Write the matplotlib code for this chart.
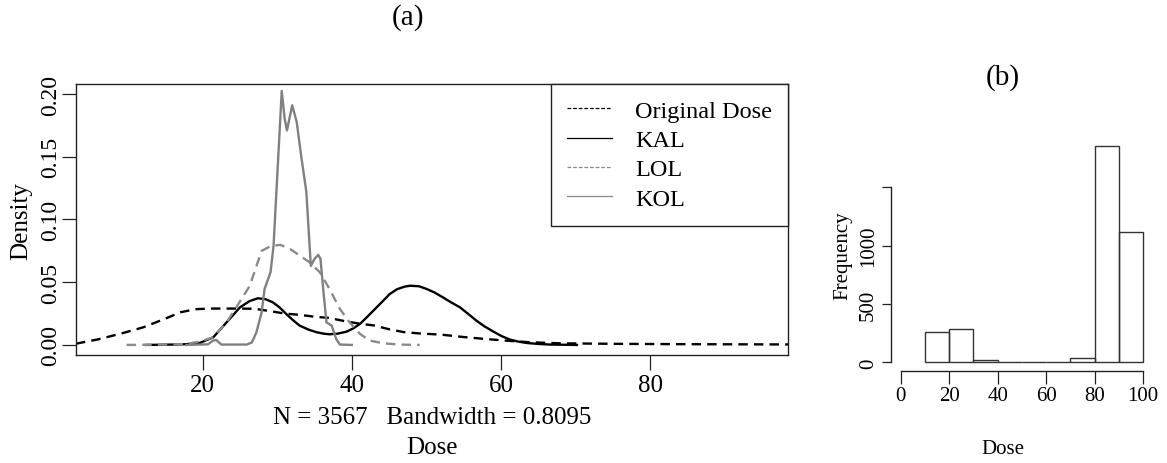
import matplotlib
matplotlib.use('Agg')
import matplotlib.pyplot as plt
from matplotlib.lines import Line2D
import numpy as np

plt.rcParams['font.family'] = ['Liberation Serif', 'DejaVu Serif']

# ---- panel (a): density curves ----
orig_x = [3, 6, 9, 12, 15, 17, 19, 21, 23, 25, 27, 29, 31, 33, 35, 37, 39, 41, 43, 45,
          47, 49, 52, 55, 58, 61, 64, 68, 75, 85, 98.5]
orig_y = [0.001, 0.0045, 0.009, 0.014, 0.021, 0.026, 0.0285, 0.029, 0.029, 0.029, 0.0288,
          0.027, 0.025, 0.024, 0.0225, 0.0215, 0.019, 0.017, 0.0155, 0.0125, 0.0102,
          0.0092, 0.0082, 0.0063, 0.0047, 0.0033, 0.0021, 0.0013, 0.0009, 0.0006, 0.0004]

kal_x = [12.4, 16, 17.8, 19.6, 21.4, 23.2, 25, 26.3, 27.4, 28.4, 29.4, 30.3, 31.2, 32.1, 33,
         34.2, 35.3, 36.2, 37, 38.1, 39.3, 40.2, 41.1, 42, 42.9, 44, 45.1, 46.1, 47.1, 47.8,
         49, 50, 51.1, 52.2, 53.3, 54.5, 55.6, 56.7, 57.8, 59, 60.1, 61.2, 62.3, 63.4, 65,
         66.6, 70.2]
kal_y = [0.0, 0.0003, 0.0006, 0.0016, 0.006, 0.018, 0.030, 0.035, 0.0372, 0.0365, 0.034,
         0.030, 0.0247, 0.0198, 0.0154, 0.0122, 0.0101, 0.009, 0.0085, 0.009, 0.0106,
         0.0132, 0.0168, 0.022, 0.0274, 0.034, 0.0407, 0.0445, 0.0465, 0.0472, 0.0468,
         0.0447, 0.0418, 0.038, 0.034, 0.030, 0.0248, 0.0194, 0.0148, 0.0106, 0.007,
         0.0043, 0.0027, 0.0016, 0.0008, 0.0003, 0.0]

lol_x = [9.8, 15.1, 17.8, 19.6, 21.4, 23.2, 24.5, 26.3, 27.9, 29.1, 30.4, 31.7, 33, 34.3,
         35.7, 37, 38.4, 39.7, 41.1, 42.4, 44.2, 46.4, 49.1]
lol_y = [0.0, 0.0003, 0.0008, 0.0027, 0.006, 0.018, 0.030, 0.047, 0.075, 0.0787, 0.0798,
         0.0766, 0.0713, 0.066, 0.058, 0.0447, 0.0287, 0.018, 0.0088, 0.0035, 0.0013,
         0.0003, 0.0]

kol_x = [17.8, 20.7, 21.4, 21.8, 22.5, 25.9, 26.6, 27.2, 27.9, 28.3, 29.1, 29.5, 30.0,
         30.6, 31.0, 31.3, 32.0, 32.6, 33.2, 33.9, 34.5, 35.0, 35.5, 35.8, 36.2, 36.6,
         37.3, 37.9, 38.4, 40.0]
kol_y = [0.0, 0.0005, 0.0035, 0.004, 0.0003, 0.0003, 0.002, 0.010, 0.026, 0.0447, 0.058,
         0.079, 0.135, 0.2024, 0.180, 0.171, 0.191, 0.178, 0.151, 0.122, 0.063, 0.0686,
         0.0718, 0.0686, 0.042, 0.018, 0.0154, 0.0048, 0.0003, 0.0]

series_names = ['Original Dose', 'KAL', 'LOL', 'KOL']

# ---- panel (b): histogram of dose ----
bin_edges = [10, 20, 30, 40, 50, 60, 70, 80, 90, 100]
bin_counts = [260, 285, 20, 0, 0, 0, 40, 1850, 1112]

fig = plt.figure(figsize=(11.67, 4.64), dpi=100)

ax = fig.add_axes([0.0651, 0.2328, 0.6101, 0.584])
ax.plot(orig_x, orig_y, color='black', lw=1.7, dashes=(4, 2.6))
ax.plot(kal_x, kal_y, color='black', lw=1.7)
ax.plot(lol_x, lol_y, color='#8a8a8a', lw=1.7, dashes=(4, 2.6))
ax.plot(kol_x, kol_y, color='#808080', lw=1.7)
ax.set_xlim(3, 98.5)
ax.set_ylim(-0.008, 0.208)
ax.set_xticks([20, 40, 60, 80])
ax.set_yticks([0, 0.05, 0.10, 0.15, 0.20])
ax.set_yticklabels(['0.00', '0.05', '0.10', '0.15', '0.20'])
ax.tick_params(axis='x', length=11, width=0.9, color='#222', labelsize=18, pad=3)
ax.tick_params(axis='y', length=10, width=0.9, color='#222', labelsize=17, pad=1,
               labelrotation=90)
for lab in ax.get_yticklabels():
    lab.set_va('center')
for s in ax.spines.values():
    s.set_color('#222')
    s.set_linewidth(1.0)

handles = [Line2D([], [], color='black', lw=0.9, dashes=(3, 1.5)),
           Line2D([], [], color='black', lw=0.9),
           Line2D([], [], color='#8a8a8a', lw=0.9, dashes=(3, 1.5)),
           Line2D([], [], color='#8a8a8a', lw=0.9)]
leg = ax.legend(handles, series_names, loc='upper right', borderaxespad=0,
                fancybox=False, framealpha=1, edgecolor='#222', fontsize=17.5,
                handlelength=1.85, handletextpad=0.95, labelspacing=0.3,
                borderpad=0.65)
leg.get_frame().set_linewidth(1.0)

fig.text(0.370, 1 - 418 / 464, 'N = 3567   Bandwidth = 0.8095', ha='center', va='center',
         fontsize=18)
fig.text(0.370, 1 - 448 / 464, 'Dose', ha='center', va='center', fontsize=18)
fig.text(21 / 1167, 1 - 221 / 464, 'Density', ha='center', va='center', rotation=90,
         fontsize=18)
fig.text(408 / 1167, 1 - 18 / 464, '(a)', ha='center', va='center', fontsize=21)

# ---- panel (b) ----
bx = fig.add_axes([0.7635, 0.1983, 0.2242, 0.5043])
bx.bar(bin_edges[:-1], bin_counts, width=10, align='edge', fill=False,
       edgecolor='#333', linewidth=1.0)
bx.set_xlim(-4, 104)
bx.set_ylim(-74, 1929)
bx.set_xticks([0, 20, 40, 60, 80, 100])
bx.set_yticks([0, 500, 1000, 1500])
bx.set_yticklabels(['0', '500', '1000', ''])
bx.spines['top'].set_visible(False)
bx.spines['right'].set_visible(False)
bx.spines['left'].set_bounds(0, 1500)
bx.spines['bottom'].set_bounds(0, 100)
for s in ['left', 'bottom']:
    bx.spines[s].set_color('#222')
    bx.spines[s].set_linewidth(1.0)
bx.tick_params(axis='x', length=9, width=0.9, color='#222', labelsize=15, pad=2)
bx.tick_params(axis='y', length=6.5, width=0.9, color='#222', labelsize=15, pad=3,
               labelrotation=90)
for lab in bx.get_yticklabels():
    lab.set_va('center')

fig.text(1003 / 1167, 1 - 450 / 464, 'Dose', ha='center', va='center', fontsize=15)
fig.text(843 / 1167, 1 - 256 / 464, 'Frequency', ha='center', va='center', rotation=90,
         fontsize=15)
fig.text(1003 / 1167, 1 - 78 / 464, '(b)', ha='center', va='center', fontsize=21)

fig.savefig('out.png', dpi=100)
